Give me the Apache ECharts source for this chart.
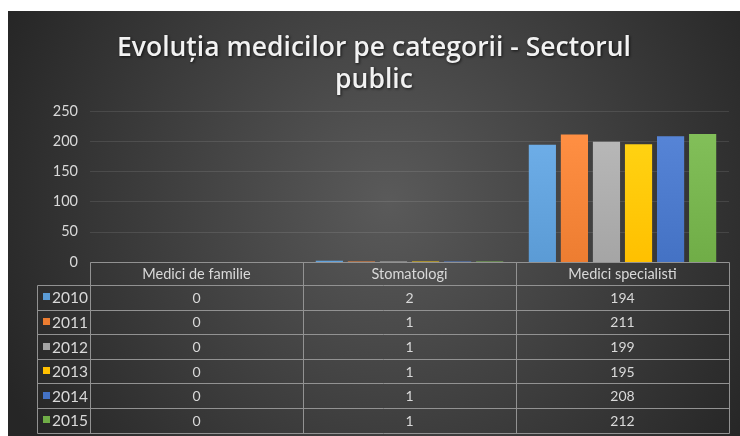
<!DOCTYPE html>
<html>
<head>
	<meta charset="utf-8">
	<title>Evoluția medicilor pe categorii - Sectorul public</title>
	<style type="text/css">
		html, body {
			margin: 0;
			padding: 0;
			background: #fff;
		}
		#chart {
			position: absolute;
			left: 8px;
			top: 11px;
			width: 732px;
			height: 425px;
		}
	</style>
</head>
<body>
	<div id="chart"></div>

	<script src="https://cdn.jsdelivr.net/npm/echarts@6/dist/echarts.min.js"></script>
	<script type="text/javascript">
	const TITLE = 'Evoluția medicilor pe categorii - Sectorul\npublic';
	const CATEGORIES = ['Medici de familie', 'Stomatologi', 'Medici specialisti'];
	const YEARS = ['2010', '2011', '2012', '2013', '2014', '2015'];
	const COLORS = ['#5B9BD5', '#ED7D31', '#A5A5A5', '#FFC000', '#4472C4', '#70AD47'];

	const VALUES_2010 = [0, 2, 194];
	const VALUES_2011 = [0, 1, 211];
	const VALUES_2012 = [0, 1, 199];
	const VALUES_2013 = [0, 1, 195];
	const VALUES_2014 = [0, 1, 208];
	const VALUES_2015 = [0, 1, 212];
	const VALUES = [VALUES_2010, VALUES_2011, VALUES_2012, VALUES_2013, VALUES_2014, VALUES_2015];

	const Y_MAX = 250;
	const Y_STEP = 50;

	const FONT = 'Lato, "Noto Sans", sans-serif';
	const TITLE_FONT = '"Open Sans", "Noto Sans", sans-serif';
	const TEXT_COLOR = '#d9d9d9';
	const TABLE_LINE = '#929292';
	const HEADER_H = 23;
	const ROW_H = 24.6;
	const LEGEND_COL_W = 53;

	var myChart = echarts.init(document.getElementById('chart'));

	function lighten(hex, amt) {
		let n = parseInt(hex.slice(1), 16);
		let r = Math.min(255, (n >> 16) + amt);
		let g = Math.min(255, ((n >> 8) & 255) + amt);
		let b = Math.min(255, (n & 255) + amt);
		return 'rgb(' + r + ',' + g + ',' + b + ')';
	}

	var option = {
		backgroundColor: {
			type: 'radial', x: 0.52, y: 0.45, r: 1.0,
			colorStops: [
				{ offset: 0, color: '#5a5a5a' },
				{ offset: 1, color: '#262626' }
			]
		},
		animation: false,
		title: {
			text: TITLE,
			left: 'center',
			top: 16,
			textStyle: {
				color: '#f2f2f2',
				fontFamily: TITLE_FONT,
				fontSize: 26.5,
				fontWeight: 600,
				lineHeight: 32,
				textShadowColor: 'rgba(0,0,0,0.7)',
				textShadowBlur: 3,
				textShadowOffsetX: 1,
				textShadowOffsetY: 1
			}
		},
		grid: { left: 82, right: 11, top: 100, bottom: 174 },
		xAxis: {
			type: 'category',
			data: CATEGORIES,
			axisLine: { show: false },
			axisTick: { show: false },
			axisLabel: { show: false }
		},
		yAxis: {
			type: 'value',
			min: 0,
			max: Y_MAX,
			interval: Y_STEP,
			axisLine: { show: false },
			axisTick: { show: false },
			axisLabel: { color: TEXT_COLOR, fontFamily: FONT, fontSize: 14.5, margin: 12 },
			splitLine: { lineStyle: { color: 'rgba(255,255,255,0.1)', width: 1 } }
		},
		series: YEARS.map((year, i) => ({
			name: year,
			type: 'bar',
			data: VALUES[i],
			barCategoryGap: '12%',
			barGap: '18%',
			itemStyle: {
				color: {
					type: 'linear', x: 0, y: 0, x2: 0, y2: 1,
					colorStops: [
						{ offset: 0, color: lighten(COLORS[i], 18) },
						{ offset: 1, color: COLORS[i] }
					]
				}
			}
		}))
	};

	myChart.setOption(option);

	// data table below the axis, placed from the category scale
	function buildTable() {
		let p0 = myChart.convertToPixel({ xAxisIndex: 0 }, 0);
		let p1 = myChart.convertToPixel({ xAxisIndex: 0 }, 1);
		let band = p1 - p0;
		let left = p0 - band / 2;
		let right = left + band * CATEGORIES.length;
		let top = myChart.convertToPixel({ yAxisIndex: 0 }, 0);
		let legLeft = left - LEGEND_COL_W;
		let bottom = top + HEADER_H + ROW_H * YEARS.length;
		let els = [];
		let px = v => Math.round(v) + 0.5;

		function line(x1, y1, x2, y2) {
			els.push({
				type: 'line', silent: true,
				shape: { x1: px(x1), y1: px(y1), x2: px(x2), y2: px(y2) },
				style: { stroke: TABLE_LINE, lineWidth: 1 }
			});
		}
		function text(x, y, s, align, size) {
			els.push({
				type: 'text', silent: true, x: x, y: y,
				style: {
					text: s, fill: TEXT_COLOR, font: size + 'px ' + FONT,
					align: align, verticalAlign: 'middle',
					textAlign: align, textVerticalAlign: 'middle'
				}
			});
		}

		// horizontal lines
		line(left, top, right, top);
		for (let r = 0; r <= YEARS.length; r++) {
			let y = top + HEADER_H + r * ROW_H;
			line(legLeft, y, right, y);
		}
		// vertical lines
		line(legLeft, top + HEADER_H, legLeft, bottom);
		for (let c = 0; c <= CATEGORIES.length; c++) {
			let x = left + c * band;
			line(x, top, x, bottom);
		}
		// header
		CATEGORIES.forEach((cat, c) => {
			text(left + (c + 0.5) * band, top + HEADER_H / 2 + 1, cat, 'center', 14.5);
		});
		// rows
		YEARS.forEach((year, r) => {
			let cy = top + HEADER_H + (r + 0.5) * ROW_H;
			els.push({
				type: 'rect', silent: true,
				shape: { x: legLeft + 6, y: Math.round(cy) - 4, width: 7, height: 7 },
				style: { fill: COLORS[r] }
			});
			text(legLeft + 15, cy + 1, year, 'left', 15.5);
			VALUES[r].forEach((v, c) => {
				text(left + (c + 0.5) * band, cy + 1, String(v), 'center', 14);
			});
		});
		myChart.setOption({ graphic: { elements: els } });
	}

	buildTable();
	</script>
</body>
</html>
